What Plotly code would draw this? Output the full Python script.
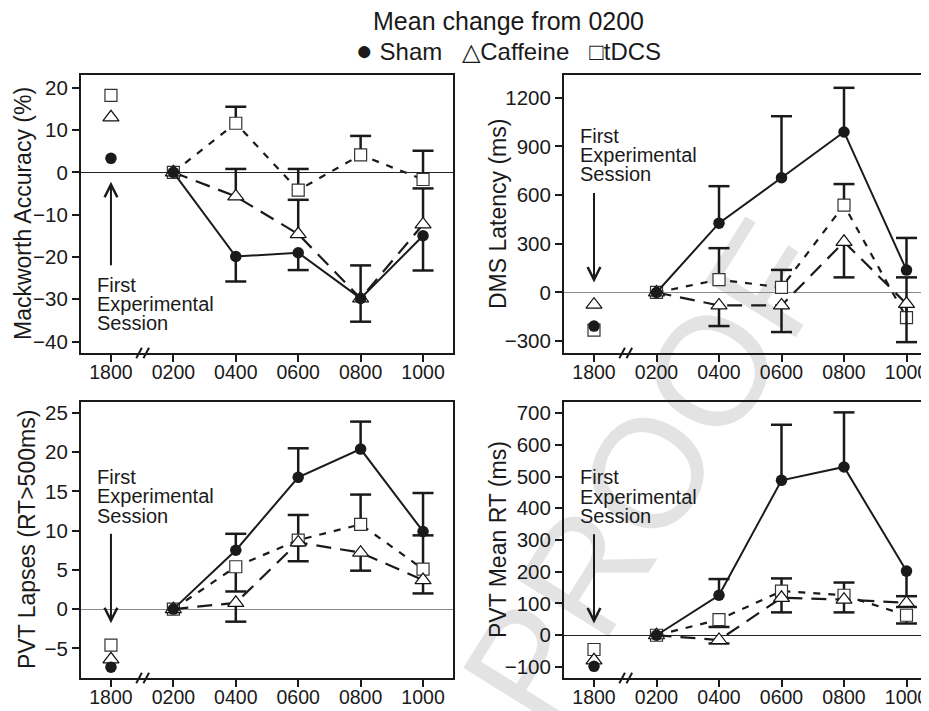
import plotly.graph_objects as go

# ---------------- data ----------------
times = ["1800", "0200", "0400", "0600", "0800", "1000"]

# Mackworth Accuracy (%)
mack_sham = [3.3, 0.0, -19.9, -19.0, -29.8, -15.0]
mack_sham_up = [0, 0, 0, 0, 0, 0]
mack_sham_dn = [0, 0, 5.9, 4.1, 5.5, 8.2]
mack_caf = [13.0, 0.0, -5.7, -14.6, -29.8, -12.3]
mack_caf_up = [0, 0, 6.5, 8.1, 7.8, 8.5]
mack_caf_dn = [0, 0, 0, 0, 0, 0]
mack_tdcs = [18.2, 0.0, 11.6, -4.2, 4.1, -1.7]
mack_tdcs_up = [0, 0, 3.9, 5.0, 4.5, 6.8]
mack_tdcs_dn = [0, 0, 0, 0, 0, 0]

# DMS Latency (ms)
dms_sham = [-207, 0, 427, 707, 989, 138]
dms_sham_up = [0, 0, 228, 379, 272, 198]
dms_sham_dn = [0, 0, 0, 0, 0, 0]
dms_caf = [-75, 0, -80, -80, 312, -70]
dms_caf_up = [0, 0, 0, 0, 0, 0]
dms_caf_dn = [0, 0, 127, 164, 219, 236]
dms_tdcs = [-232, 0, 79, 31, 538, -155]
dms_tdcs_up = [0, 0, 194, 108, 130, 248]
dms_tdcs_dn = [0, 0, 0, 0, 0, 0]

# PVT Lapses (RT>500ms)
lap_sham = [-7.4, 0.0, 7.5, 16.8, 20.4, 9.9]
lap_sham_up = [0, 0, 2.1, 3.7, 3.5, 4.9]
lap_sham_dn = [0, 0, 0, 0, 0, 0]
lap_caf = [-6.4, 0.0, 0.8, 8.5, 7.2, 3.7]
lap_caf_up = [0, 0, 0, 0, 0, 0]
lap_caf_dn = [0, 0, 2.4, 2.4, 2.3, 1.7]
lap_tdcs = [-4.6, 0.0, 5.4, 8.8, 10.8, 5.1]
lap_tdcs_up = [0, 0, 0, 3.2, 3.8, 4.3]
lap_tdcs_dn = [0, 0, 3.15, 0, 0, 0]

# PVT Mean RT (ms)
rt_sham = [-98, 0, 126, 488, 530, 202]
rt_sham_up = [0, 0, 51, 175, 172, 0]
rt_sham_dn = [0, 0, 0, 0, 0, 79]
rt_caf = [-79, 0, -15, 118, 112, 102]
rt_caf_up = [0, 0, 0, 0, 0, 0]
rt_caf_dn = [0, 0, 11, 46, 40, 13]
rt_tdcs = [-45, 0, 49, 139, 126, 63]
rt_tdcs_up = [0, 0, 0, 40, 40, 0]
rt_tdcs_dn = [0, 0, 23, 0, 0, 26]

y_titles = ["Mackworth Accuracy (%)", "DMS Latency (ms)",
            "PVT Lapses (RT>500ms)", "PVT Mean RT (ms)"]
y_ticks = [[-40, -30, -20, -10, 0, 10, 20],
           [-300, 0, 300, 600, 900, 1200],
           [-5, 0, 5, 10, 15, 20, 25],
           [-100, 0, 100, 200, 300, 400, 500, 600, 700]]
y_ranges = [[-42.7, 23.0], [-373, 1340], [-8.78, 26.4], [-134.7, 734.7]]
session_lines = ["First", "Experimental", "Session"]
session_y = [[-26.6, -31.2, -35.7], [962, 845, 731], [16.8, 14.4, 11.9], [498, 437, 377]]
arrow_tail_head = [(-22.3, -2.2), (622, 62), (9.8, -1.8), (323, 37)]
zero_colors = ["#222222", "#8a8a8a", "#8a8a8a", "#222222"]

# ---------------- styling ----------------
# the page body has an 8px margin, so the figure is sized/placed to land
# on the 929x711 window exactly.
BODY = 8
W, H = 929 - BODY, 711 - BODY
FONT = "Liberation Sans, Arial, Helvetica, sans-serif"
INK = "#1a1a1a"


def px(x):
    return (x - BODY) / W


def py(y):
    return 1 - (y - BODY) / H


x_domains = [[px(81), px(453)], [px(564), 1.0], [px(81), px(453)], [px(564), 1.0]]
y_domains = [[py(353), py(75)], [py(353), py(75)], [py(678), py(402)], [py(678), py(402)]]
x_ranges = [[-0.48, 5.48], [-0.48, 5.36], [-0.48, 5.48], [-0.48, 5.36]]
ytitle_x = [23, 498, 27, 498]

fig = go.Figure()

panels = [
    (mack_sham, mack_sham_up, mack_sham_dn, mack_caf, mack_caf_up, mack_caf_dn, mack_tdcs, mack_tdcs_up, mack_tdcs_dn),
    (dms_sham, dms_sham_up, dms_sham_dn, dms_caf, dms_caf_up, dms_caf_dn, dms_tdcs, dms_tdcs_up, dms_tdcs_dn),
    (lap_sham, lap_sham_up, lap_sham_dn, lap_caf, lap_caf_up, lap_caf_dn, lap_tdcs, lap_tdcs_up, lap_tdcs_dn),
    (rt_sham, rt_sham_up, rt_sham_dn, rt_caf, rt_caf_up, rt_caf_dn, rt_tdcs, rt_tdcs_up, rt_tdcs_dn),
]

mk_sq = dict(symbol="square", size=12, color="white", line=dict(color="#333333", width=1.2))
mk_tri = dict(symbol="triangle-up", size=14, color="white", line=dict(color="#111111", width=1.2))
mk_dot = dict(symbol="circle", size=11.5, color=INK, line=dict(width=0))
ln_sq = dict(color=INK, width=2.2, dash="7px,8px")
ln_tri = dict(color=INK, width=2.2, dash="15px,9px")
ln_dot = dict(color=INK, width=2)

for i, (s, su, sd, c, cu, cd, t, tu, td) in enumerate(panels):
    n = i + 1
    xa = "x" if n == 1 else f"x{n}"
    ya = "y" if n == 1 else f"y{n}"
    series = [
        ("tDCS", t, tu, td, mk_sq, ln_sq),
        ("Caffeine", c, cu, cd, mk_tri, ln_tri),
        ("Sham", s, su, sd, mk_dot, ln_dot),
    ]
    # error-bar caps
    for name, v, up, dn, mk, ln in series:
        cx, cy = [], []
        for tt, val, u, d in zip(times, v, up, dn):
            if u:
                cx.append(tt)
                cy.append(val + u)
            if d:
                cx.append(tt)
                cy.append(val - d)
        fig.add_trace(go.Scatter(
            x=cx, y=cy, mode="markers", xaxis=xa, yaxis=ya, showlegend=False,
            hoverinfo="skip",
            marker=dict(symbol="line-ew", size=15, color=INK, line=dict(color=INK, width=2.5))))
    # lines, stems, markers
    for name, v, up, dn, mk, ln in series:
        fig.add_trace(go.Scatter(
            x=times[1:], y=v[1:], mode="lines+markers", name=name, xaxis=xa, yaxis=ya,
            showlegend=False, line=ln, marker=mk,
            error_y=dict(type="data", symmetric=False, array=up[1:], arrayminus=dn[1:],
                         width=0, thickness=2.5, color=INK)))
        fig.add_trace(go.Scatter(
            x=times[:1], y=v[:1], mode="markers", name=name, xaxis=xa, yaxis=ya,
            showlegend=False, marker=mk))

layout = dict(
    width=W, height=H,
    margin=dict(l=0, r=0, t=0, b=0),
    paper_bgcolor="white", plot_bgcolor="rgba(0,0,0,0)",
    font=dict(family=FONT, color=INK),
    showlegend=False,
)

annotations = []
shapes = []
for i in range(4):
    n = i + 1
    left = n in (1, 3)
    xk = "xaxis" if n == 1 else f"xaxis{n}"
    yk = "yaxis" if n == 1 else f"yaxis{n}"
    xr = "x" if n == 1 else f"x{n}"
    yr = "y" if n == 1 else f"y{n}"
    layout[xk] = dict(
        domain=x_domains[i], anchor=yr, type="category",
        categoryorder="array", categoryarray=times, range=x_ranges[i],
        showline=True, linewidth=2, linecolor=INK, mirror=True,
        ticks="outside", ticklen=7, tickwidth=2, tickcolor=INK,
        tickfont=dict(size=19.5, family=FONT, color=INK), ticklabelstandoff=-6,
        showgrid=False, zeroline=False, automargin=False,
    )
    layout[yk] = dict(
        domain=y_domains[i], anchor=xr, range=y_ranges[i],
        tickmode="array", tickvals=y_ticks[i],
        showline=True, linewidth=2, linecolor=INK, mirror=left,
        ticks="outside", ticklen=7, tickwidth=2, tickcolor=INK,
        tickfont=dict(size=20.5, family=FONT, color=INK),
        showgrid=False, zeroline=True, zerolinecolor=zero_colors[i], zerolinewidth=1,
        automargin=False,
    )
    # y axis title
    annotations.append(dict(
        text=y_titles[i], xref="paper", yref="paper",
        x=px(ytitle_x[i]), y=sum(y_domains[i]) / 2, xanchor="center", yanchor="middle",
        textangle=-90, showarrow=False, font=dict(size=23, family=FONT, color=INK)))
    # "First Experimental Session"
    for txt, yy in zip(session_lines, session_y[i]):
        annotations.append(dict(
            text=txt, xref=xr, yref=yr, x=-0.25, y=yy, xanchor="left", yanchor="middle",
            showarrow=False, font=dict(size=20, family=FONT, color=INK)))
    tail, head = arrow_tail_head[i]
    annotations.append(dict(
        text="", xref=xr, yref=yr, x=0, y=head, axref=xr, ayref=yr, ax=0, ay=tail,
        showarrow=True, arrowhead=5, arrowsize=1.25, arrowwidth=2, arrowcolor=INK,
        standoff=0, startstandoff=0))
    # axis break marks
    for x0 in (0.405, 0.52):
        shapes.append(dict(type="line", xref=xr, yref=f"{yr} domain",
                           x0=x0, x1=x0 + 0.09, y0=-0.019, y1=0.019,
                           line=dict(color=INK, width=2)))

# title and legend
annotations.append(dict(
    text="Mean change from 0200", xref="paper", yref="paper", x=px(508), y=py(21),
    xanchor="center", yanchor="middle", showarrow=False,
    font=dict(size=25, family=FONT, color=INK)))
annotations.append(dict(
    text=("<span style='font-size:28px'>\u25cf</span>\u00a0Sham\u00a0\u00a0\u00a0"
          "\u25b3Caffeine\u00a0\u00a0\u00a0\u25a1tDCS"),
    xref="paper", yref="paper", x=px(508), y=py(50.5),
    xanchor="center", yanchor="middle", showarrow=False,
    font=dict(size=24, family=FONT, color=INK)))

# faint watermark of the source page
shapes.append(dict(
    type="rect", xref="paper", yref="paper", x0=px(630), x1=px(640),
    y0=py(470), y1=py(460), line=dict(width=0), fillcolor="rgba(0,0,0,0)",
    layer="below",
    label=dict(text="PROOF", textangle=-58, textposition="middle center",
               font=dict(size=155, family=FONT, color="#e3e3e3"))))

layout["annotations"] = annotations
layout["shapes"] = shapes
fig.update_layout(**layout)

fig.write_html("out.html")
